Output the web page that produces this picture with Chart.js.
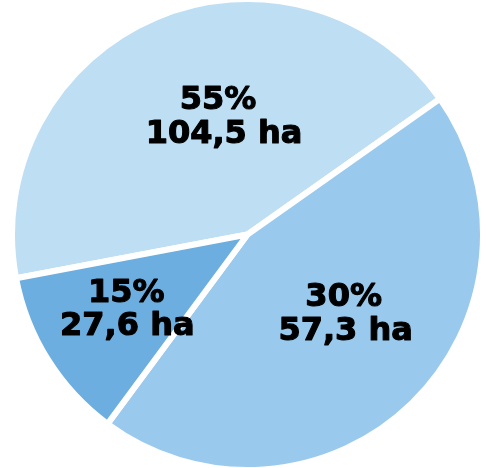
<!DOCTYPE html>
<html>
<head>
	<meta charset="utf-8">
	<script type="text/javascript" src="https://cdn.jsdelivr.net/npm/chart.js@4/dist/chart.umd.min.js"></script>
	<style type="text/css">
	body{
		margin: 0;
		background: #fff;
	}
	#canvas-holder{
		width: 488px;
		height: 468px;
	}
	</style>
</head>
<body>
	<div id="canvas-holder">
		<canvas id="chart-area"></canvas>
	</div>

	<script>

	// slice shares as drawn in the picture (the printed labels say 55/30/15,
	// but the wedges themselves are drawn at roughly these angles)
	var slices = ['light', 'medium', 'dark'];
	var sliceShares = [43.2, 44.9, 11.9];
	var percentLabels = ['55%', '30%', '15%'];
	var areaLabels = ['104,5 ha', '57,3 ha', '27,6 ha'];

	var sliceColors = ['#bedef3', '#99caee', '#6caedf'];

	// label placement: angle nudge (deg) from mid-angle and radius fraction
	var labelNudge = [11.4, -7.3, 1.2];
	var labelRadius = [0.52, 0.526, 0.60];
	// first line shift (px) — the top label's lines are not quite centred
	var firstLineShift = [-5, -1, 0];

	var labelPlugin = {
		id: 'sliceLabels',
		afterDatasetsDraw: function(chart) {
			var ctx = chart.ctx;
			var meta = chart.getDatasetMeta(0);
			ctx.save();
			ctx.font = 'bold 32px "DejaVu Sans", Verdana, sans-serif';
			ctx.fillStyle = '#000';
			ctx.strokeStyle = '#000';
			ctx.lineWidth = 1.1;
			ctx.lineJoin = 'round';
			ctx.textAlign = 'center';
			ctx.textBaseline = 'alphabetic';
			meta.data.forEach(function(arc, i) {
				var p = arc.getProps(['x', 'y', 'startAngle', 'endAngle', 'outerRadius'], true);
				var mid = (p.startAngle + p.endAngle) / 2 + labelNudge[i] * Math.PI / 180;
				var r = p.outerRadius * labelRadius[i];
				var cx = p.x + Math.cos(mid) * r;
				var cy = p.y + Math.sin(mid) * r;
				var lines = [
					[percentLabels[i], cx + firstLineShift[i], cy - 5.2],
					[areaLabels[i], cx + 1, cy + 28.2]
				];
				lines.forEach(function(l) {
					ctx.fillText(l[0], l[1], l[2]);
					ctx.strokeText(l[0], l[1], l[2]);
				});
			});
			ctx.restore();
		}
	};

	var config = {
		type: 'pie',
		data: {
			labels: slices,
			datasets: [{
				data: sliceShares,
				backgroundColor: sliceColors,
				borderColor: '#ffffff',
				borderWidth: 6,
				hoverOffset: 0,
				radius: 235.5
			}]
		},
		options: {
			responsive: true,
			maintainAspectRatio: false,
			animation: false,
			rotation: 259.3,
			layout: {
				padding: { left: 7, top: 1, right: 0, bottom: 0 }
			},
			plugins: {
				legend: { display: false },
				tooltip: { enabled: false }
			}
		},
		plugins: [labelPlugin]
	};

	window.onload = function() {
		var ctx = document.getElementById('chart-area').getContext('2d');
		new Chart(ctx, config);
	};

	</script>
</body>
</html>
